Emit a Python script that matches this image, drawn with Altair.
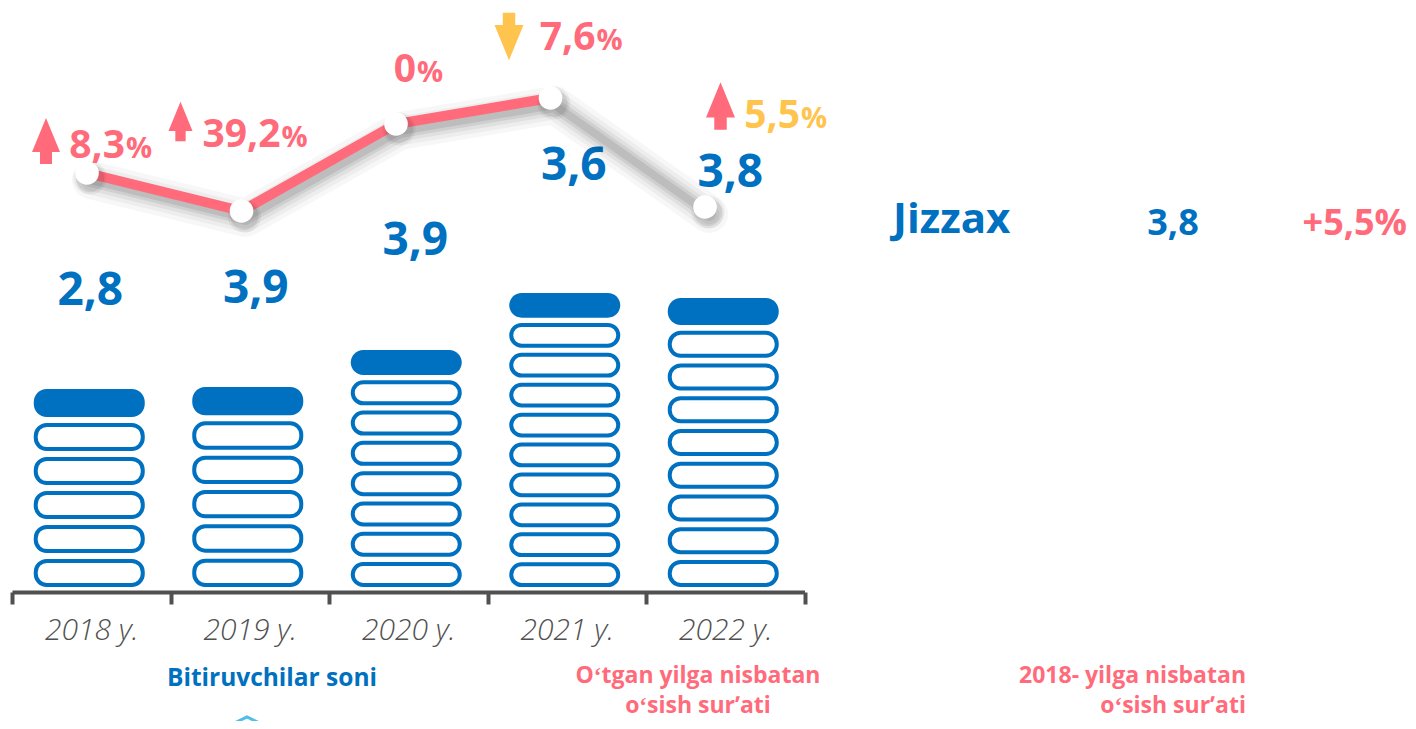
import altair as alt
import pandas as pd

# ---------------- data ----------------
years = ["2018 y.", "2019 y.", "2020 y.", "2021 y.", "2022 y."]
graduates = [2.8, 3.9, 3.9, 3.6, 3.8]            # Bitiruvchilar soni
growth = [8.3, 39.2, 0.0, 7.6, 5.5]               # o'tgan yilga nisbatan o'sish, %
growth_dir = ["up", "up", "none", "down", "up"]
pill_counts = [6, 6, 8, 10, 9]                    # pills stacked in each column
bar_tops = [203, 205, 242, 299, 294]              # column heights (chart units)
line_levels = [419, 381, 468, 494, 385]           # decorative trend line levels
region = "Jizzax"
region_value = 3.8
region_growth = 5.5

# ---------------- styling / layout ----------------
BLUE = "#0070C0"
PINK = "#FF6B7A"
GOLD = "#FFC44E"
GREY = "#505050"
FONT = "Open Sans"
W, H = 1400, 584
BASE = 5
GAP = 0.21
value_label_dx = [-1, 6, 7, 7, 5]
value_label_y = [287, 289, 337, 412, 405]
pct_label_off = [(38, -15), (39, -64), (20, -42), (45, -48), (95, -79)]
pct_colors = [PINK, PINK, PINK, PINK, GOLD]
arrow_off = {0: (-41, -32, 28), 1: (-61, -89.5, 24), 3: (-41.5, -61.5, 29), 4: (15.5, -101, 29)}
UP = "M0,-1.64L1,0.79L0.43,0.79L0.43,1.64L-0.43,1.64L-0.43,0.79L-1,0.79Z"
DOWN = "M0,1.64L1,-0.79L0.43,-0.79L0.43,-1.64L-0.43,-1.64L-0.43,-0.79L-1,-0.79Z"


def comma(v):
    return ("%.1f" % v).replace(".", ",") if v != 0 else "0"


rows = []
for yr, n, top in zip(years, pill_counts, bar_tops):
    h = (top - BASE) / (n + (n - 1) * GAP)
    for k in range(n):
        y0 = BASE + k * h * (1 + GAP)
        rows.append({"year": yr, "y0": y0, "y1": y0 + h,
                     "iy0": y0 + 2, "iy1": y0 + h - 2, "top": k == n - 1})
pills = pd.DataFrame(rows)
outline = pills[~pills["top"]]
caps = pills[pills["top"]]

vals = pd.DataFrame({"year": years, "label": [comma(v) for v in graduates],
                     "ly": value_label_y})
line_df = pd.DataFrame({"year": years, "level": line_levels,
                        "num": [comma(v) for v in growth], "dir": growth_dir})

yS = alt.Scale(domain=[0, H], nice=False, zero=False)

xA = alt.X("year:N", sort=years, title=None,
           scale=alt.Scale(type="band", domain=years, range=[4, 796.5],
                           paddingInner=0, paddingOuter=0),
           axis=alt.Axis(domainColor=GREY, domainWidth=4, tickColor=GREY,
                         tickWidth=4, tickSize=12, tickBand="extent",
                         labelFont=FONT, labelFontSize=30, labelFontStyle="italic",
                         labelFontWeight=300, labelColor=GREY, labelPadding=11,
                         labelAngle=0, grid=False))

caps_layer = alt.Chart(caps).mark_bar(width=111, cornerRadius=13, color=BLUE,
                                      xOffset=-2).encode(
    x=xA, y=alt.Y("y0:Q", scale=yS, axis=None), y2="y1:Q")
outline_layer = alt.Chart(outline).mark_bar(width=107, cornerRadius=11, fill="white",
                                            stroke=BLUE, strokeWidth=4,
                                            xOffset=-2).encode(
    x=xA, y=alt.Y("iy0:Q", scale=yS, axis=None), y2="iy1:Q")

layersA = [outline_layer, caps_layer]
for i in range(len(years)):
    layersA.append(alt.Chart(vals.iloc[[i]]).mark_text(
        font=FONT, fontSize=46, fontWeight="bold", color=BLUE,
        baseline="alphabetic", dx=value_label_dx[i]).encode(
        x=xA, y=alt.Y("ly:Q", scale=yS, axis=None), text="label:N"))

one = pd.DataFrame({"k": [0]})


def note(text, x, y, size, color, align="center", weight="bold"):
    return alt.Chart(one).mark_text(
        text=text, font=FONT, fontSize=size, fontWeight=weight, color=color,
        align=align, baseline="alphabetic").encode(x=alt.value(x), y=alt.value(y))


layersA += [
    note(region, 885, 225, 42, BLUE, "left"),
    note(comma(region_value), 1165, 227, 36, BLUE),
    note("+" + comma(region_growth) + "%", 1399, 227, 36, PINK, "right"),
    note("Bitiruvchilar soni", 264, 678, 24.5, BLUE),
    note("Oʻtgan yilga nisbatan", 690, 675, 23, PINK),
    note("oʻsish surʼati", 690, 705, 23, PINK),
    note("2018- yilga nisbatan", 1238, 675, 23, PINK, "right"),
    note("oʻsish surʼati", 1238, 705, 23, PINK, "right"),
    alt.Chart(one).mark_point(shape="M-1,0.48L0,0L1,0.48", filled=False,
                              stroke="#4DBFEA", strokeWidth=3, size=2500,
                              opacity=1).encode(x=alt.value(239), y=alt.value(709)),
]
groupA = alt.layer(*layersA)

# ---------------- decorative growth line ----------------
xB = alt.X("year:N", sort=years, title=None, axis=None,
           scale=alt.Scale(type="point", domain=years, range=[79, 697], padding=0))
yB = alt.Y("level:Q", scale=yS, axis=None)

layersB = []
for wdt, op in [(38, 0.03), (29, 0.04), (21, 0.055), (14, 0.075), (8, 0.085)]:
    layersB.append(alt.Chart(line_df).mark_line(
        color="black", opacity=op, strokeWidth=wdt, xOffset=4, yOffset=7,
        strokeJoin="round", strokeCap="round").encode(x=xB, y=yB))
layersB.append(alt.Chart(line_df.iloc[:4]).mark_line(
    color=PINK, strokeWidth=10).encode(x=xB, y=yB))
for sz, op in [(1100, 0.05), (800, 0.08)]:
    layersB.append(alt.Chart(line_df).mark_circle(
        color="black", opacity=op, size=sz, xOffset=3, yOffset=5).encode(x=xB, y=yB))
layersB.append(alt.Chart(line_df).mark_circle(
    color="white", opacity=1, size=560).encode(x=xB, y=yB))

for i in range(len(years)):
    dx, dy = pct_label_off[i]
    row = line_df.iloc[[i]]
    layersB.append(alt.Chart(row).mark_text(
        font=FONT, fontSize=39, fontWeight="bold", color=pct_colors[i],
        align="right", baseline="alphabetic", dx=dx, dy=dy).encode(
        x=xB, y=yB, text="num:N"))
    layersB.append(alt.Chart(row).mark_text(
        text="%", font=FONT, fontSize=29, fontWeight="bold", color=pct_colors[i],
        align="left", baseline="alphabetic", dx=dx + 1, dy=dy).encode(x=xB, y=yB))
    if i in arrow_off:
        ax, ay, aw = arrow_off[i]
        up = growth_dir[i] == "up"
        layersB.append(alt.Chart(row).mark_point(
            shape=UP if up else DOWN, filled=True, color=PINK if up else GOLD,
            opacity=1, size=aw * aw, xOffset=ax, yOffset=ay,
            strokeWidth=0).encode(x=xB, y=yB))
groupB = alt.layer(*layersB)

chart = alt.layer(groupA, groupB).resolve_scale(x="independent").properties(
    width=W, height=H, background="white",
    autosize=alt.AutoSizeParams(type="none"),
    padding={"left": 0, "top": 0, "right": 0, "bottom": 129},
).configure_view(stroke=None)

chart.save("out.html", embed_options={"renderer": "svg", "actions": False})
